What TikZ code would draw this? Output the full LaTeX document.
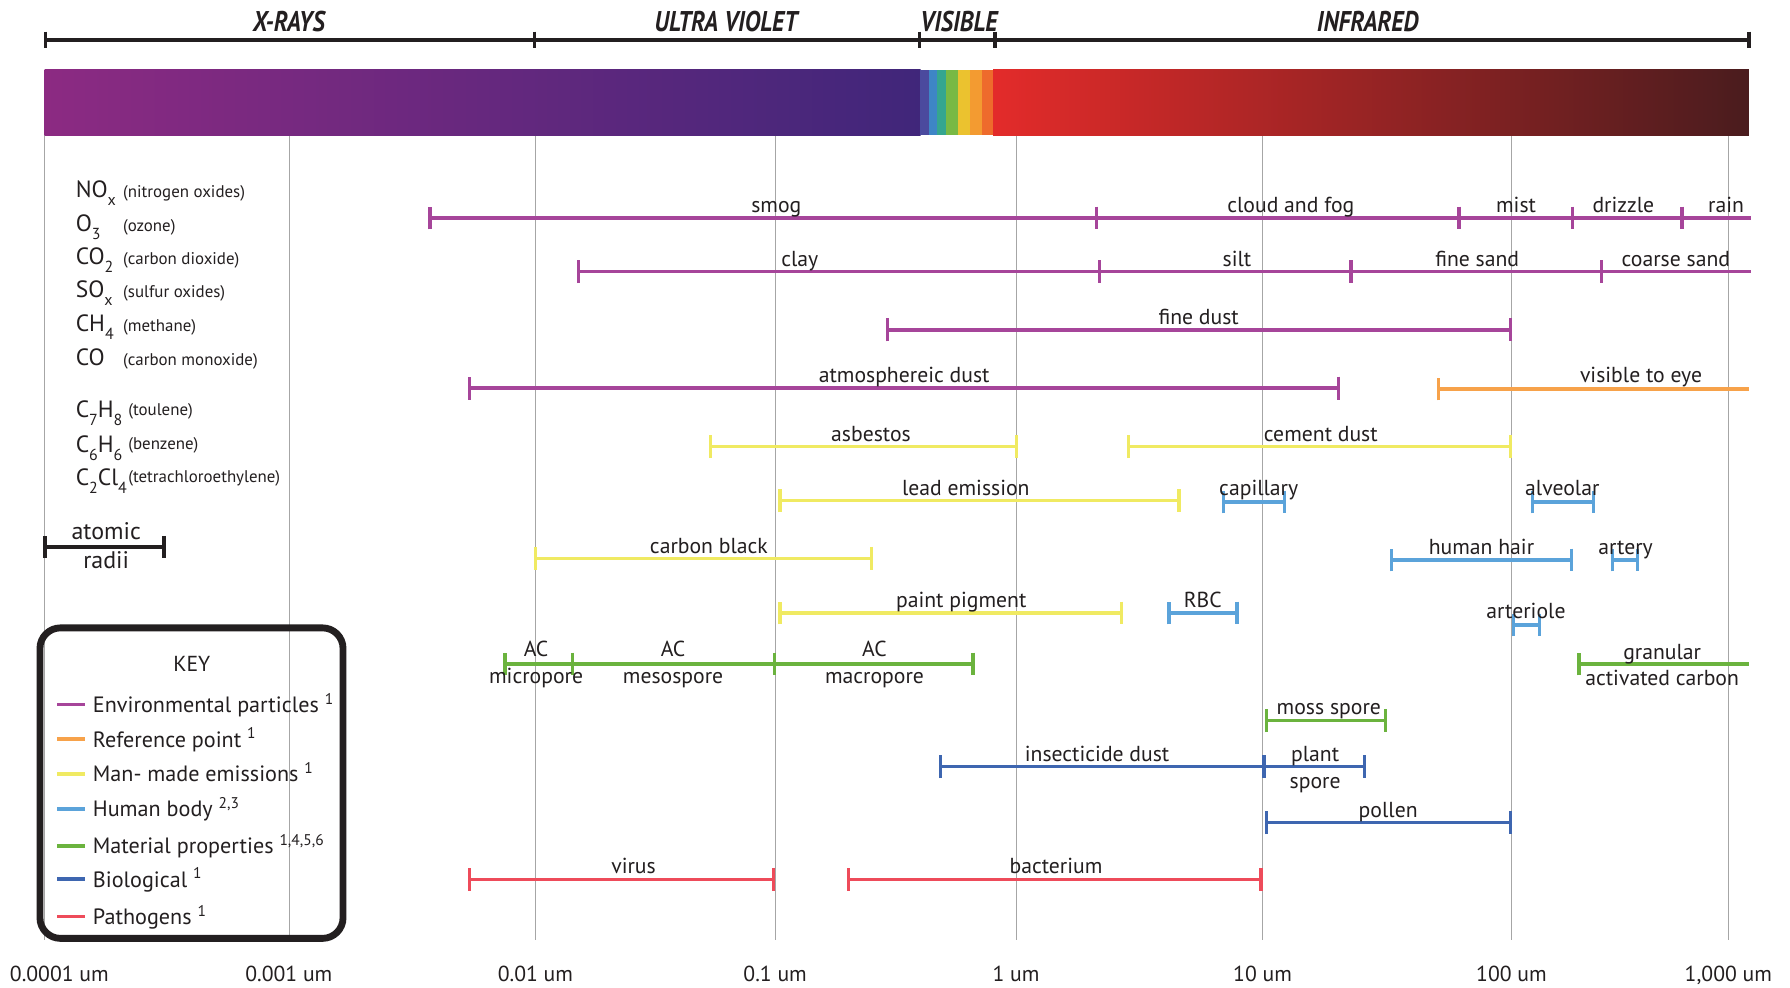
\documentclass[tikz,border=0pt]{standalone}
\usepackage{fontspec}
\setmainfont{PT Sans}
\newfontfamily\condfont[FakeStretch=0.84]{PT Sans}
\usetikzlibrary{arrows.meta}
\definecolor{envc}{HTML}{A6459A}
\definecolor{refc}{HTML}{F7A24A}
\definecolor{manc}{HTML}{F0EA62}
\definecolor{humc}{HTML}{5BA3DA}
\definecolor{matc}{HTML}{6BB33E}
\definecolor{bioc}{HTML}{3E66B0}
\definecolor{patc}{HTML}{EE4B5A}
\definecolor{uvL}{HTML}{8C2A82}
\definecolor{uvR}{HTML}{40267A}
\definecolor{irL}{HTML}{E32B2A}
\definecolor{irM}{HTML}{8E2828}
\definecolor{irR}{HTML}{4A1C1E}
\definecolor{txt}{HTML}{231F20}
\newcommand\rng[5]{%
  \coordinate (#1a) at (#3,#5);
  \coordinate (#1b) at (#4,#5);
  \draw[#2] (#1a) -- (#1b);}
\newcommand\lab[4]{\node[lbl] (#1) at (#2,#3) {#4};}
\newcommand\sbs[1]{\raisebox{-3.5pt}{\fontsize{7}{7}\selectfont #1}}
\begin{document}
\begin{tikzpicture}[x=0.5pt,y=-0.5pt,
  lbl/.style={font=\fontsize{9.5}{11}\selectfont, anchor=base, inner sep=0pt, text=txt},
  toplbl/.style={font=\fontsize{12.5}{14}\condfont\bfseries\itshape, anchor=base, inner sep=0pt, text=txt},
  axlbl/.style={font=\fontsize{9.5}{11}\selectfont, anchor=base, inner sep=0pt, text=txt},
  fml/.style={font=\fontsize{10.3}{12}\selectfont, anchor=base west, inner sep=0pt, text=txt},
  fnm/.style={font=\fontsize{7.4}{8}\selectfont, anchor=base west, inner sep=0pt, text=txt},
  keyt/.style={font=\fontsize{9.7}{12}\selectfont, anchor=base west, inner sep=0pt, text=txt},
  rg/.style={line width=1.5pt, {Bar[width=10pt]}-{Bar[width=10pt]}},
  rgl/.style={line width=1.5pt, {Bar[width=10pt]}-},
  rgr/.style={line width=1.5pt, -{Bar[width=10pt]}},
  rgn/.style={line width=1.5pt},
  axis/.style={line width=1.4pt, txt},
  tick/.style={line width=1.4pt, txt},
  grid/.style={line width=0.45pt, color=black!35},
  keyln/.style={line width=1.5pt},
]
\useasboundingbox (0,0) rectangle (1568,865);
\fill[white] (0,0) rectangle (1568,865);

% grid lines
\foreach \i/\gx in {0/39,1/254,2/469,3/679,4/890,5/1106,6/1324,7/1514}{
  \coordinate (g\i t) at (\gx,118.3);
  \coordinate (g\i b) at (\gx,823);
  \draw[grid] (g\i t) -- (g\i b);
}

% spectrum bar
\shade[left color=uvL, right color=uvR] (39,61.3) rectangle (806.5,118.3);
\fill[fill={rgb,255:red,75;green,74;blue,158}] (806,61.3) rectangle (813.5,118.3);
\fill[fill={rgb,255:red,62;green,134;blue,198}] (813.5,61.3) rectangle (821,118.3);
\fill[fill={rgb,255:red,53;green,166;blue,143}] (821,61.3) rectangle (829,118.3);
\fill[fill={rgb,255:red,121;green,185;blue,68}] (829,61.3) rectangle (839,118.3);
\fill[fill={rgb,255:red,235;green,194;blue,47}] (839,61.3) rectangle (849.5,118.3);
\fill[fill={rgb,255:red,243;green,155;blue,49}] (849.5,61.3) rectangle (860,118.3);
\fill[fill={rgb,255:red,238;green,107;blue,44}] (860,61.3) rectangle (870.5,118.3);
\shade[left color=irL, middle color=irM, right color=irR] (870,61.3) rectangle (1532,118.3);

% top axis
\coordinate (t0) at (40,35);
\coordinate (t1) at (468,35);
\coordinate (t2) at (805.5,35);
\coordinate (t3) at (871.6,35);
\coordinate (t4) at (1532,35);
\draw[axis] (t0) -- (t4);
\foreach \t in {t0,t1,t2,t3,t4}{
  \draw[tick] ([yshift=3.6pt]\t) -- ([yshift=-3.6pt]\t);
}
\node[toplbl] (xray) at (253,28) {X-RAYS};
\node[toplbl] (uv) at (636,28) {ULTRA VIOLET};
\node[toplbl] (vis) at (840,28) {VISIBLE};
\node[toplbl] (ir) at (1198,28) {INFRARED};

% bottom axis labels
\node[axlbl] (a0) at (52,860) {0.0001 um};
\node[axlbl] (a1) at (253,860) {0.001 um};
\node[axlbl] (a2) at (469,860) {0.01 um};
\node[axlbl] (a3) at (679,860) {0.1 um};
\node[axlbl] (a4) at (890,860) {1 um};
\node[axlbl] (a5) at (1106,860) {10 um};
\node[axlbl] (a6) at (1324,860) {100 um};
\node[axlbl] (a7) at (1514,860) {1,000 um};

% left formulas
\node[fml] (f1) at (66,173) {NO\sbs{x}};
\node[fnm] (n1) at (107.5,173) {(nitrogen oxides)};
\node[fml] (f2) at (66,203) {O\sbs{3}};
\node[fnm] (n2) at (107.5,203) {(ozone)};
\node[fml] (f3) at (66,232) {CO\sbs{2}};
\node[fnm] (n3) at (107.5,232) {(carbon dioxide)};
\node[fml] (f4) at (66,261) {SO\sbs{x}};
\node[fnm] (n4) at (107.5,261) {(sulfur oxides)};
\node[fml] (f5) at (66,290.5) {CH\sbs{4}};
\node[fnm] (n5) at (107.5,290.5) {(methane)};
\node[fml] (f6) at (66,320) {CO};
\node[fnm] (n6) at (107.5,320) {(carbon monoxide)};
\node[fml] (f7) at (66,366) {C\sbs{7}H\sbs{8}};
\node[fnm] (n7) at (112,364) {(toulene)};
\node[fml] (f8) at (66,396) {C\sbs{6}H\sbs{6}};
\node[fnm] (n8) at (112,394) {(benzene)};
\node[fml] (f9) at (66,425) {C\sbs{2}Cl\sbs{4}};
\node[fnm] (n9) at (112,423) {(tetrachloroethylene)};

% atomic radii
\rng{ar}{txt, line width=1.5pt, {Bar[width=9.5pt]}-{Bar[width=9.5pt]}}{38}{145}{479}
\node[lbl, font=\fontsize{10.5}{12}\selectfont] (arT) at (93,473) {atomic};
\node[lbl, font=\fontsize{10.5}{12}\selectfont] (arB) at (93,498) {radii};

% key
\node[draw=txt, line width=3pt, rounded corners=9pt, minimum width=132.75pt, minimum height=136pt, inner sep=0pt] (key) at (167.75,686) {};
\node[lbl] (keyT) at (168,588) {KEY};
\foreach \n/\c/\ky/\t in {k1/envc/617/{Environmental particles \textsuperscript{1}},
  k2/refc/647.5/{Reference point \textsuperscript{1}},
  k3/manc/678/{Man- made emissions \textsuperscript{1}},
  k4/humc/708.6/{Human body \textsuperscript{2,3}},
  k5/matc/741/{Material properties \textsuperscript{1,4,5,6}},
  k6/bioc/770/{Biological \textsuperscript{1}},
  k7/patc/803/{Pathogens \textsuperscript{1}}}{
  \coordinate (\n a) at (50,\ky);
  \coordinate (\n b) at (74.5,\ky);
  \draw[keyln, \c] (\n a) -- (\n b);
  \node[keyt] (\n t) at (81,\ky+7) {\t};
}

% row 1
\rng{smog}{rg,envc}{375}{962}{191}
\rng{cloud}{rgr,envc}{962}{1279.5}{191}
\rng{mist}{rgr,envc}{1279.5}{1379}{191}
\rng{drizzle}{rgr,envc}{1379}{1475}{191}
\rng{rain}{rgn,envc}{1475}{1534}{191}
\lab{smogL}{680}{186.5}{smog}
\lab{cloudL}{1130.7}{186.5}{cloud and fog}
\lab{mistL}{1328}{186.5}{mist}
\lab{drizzleL}{1422}{186.5}{drizzle}
\lab{rainL}{1512}{186.5}{rain}

% row 2
\rng{clay}{rg,envc}{505}{964.6}{238}
\rng{silt}{rgr,envc}{964.6}{1185}{238}
\rng{fsand}{rgr,envc}{1185}{1404.4}{238}
\rng{csand}{rgn,envc}{1404.4}{1534}{238}
\lab{clayL}{700.6}{233.5}{clay}
\lab{siltL}{1083.6}{233.5}{silt}
\lab{fsandL}{1294}{233.5}{fine sand}
\lab{csandL}{1468}{233.5}{coarse sand}

% row 3
\rng{fdust}{rg,envc}{776}{1324.5}{289}
\lab{fdustL}{1050}{284.5}{fine dust}

% row 4
\rng{adust}{rg,envc}{410}{1174}{340}
\lab{adustL}{792}{335.5}{atmosphereic dust}
\rng{veye}{rgl,refc}{1258.7}{1532}{340.8}
\lab{veyeL}{1437.5}{335.5}{visible to eye}

% row 5
\rng{asb}{rg,manc}{621}{892}{391.3}
\lab{asbL}{763}{386.5}{asbestos}
\rng{cem}{rg,manc}{987}{1324.5}{391.3}
\lab{cemL}{1157}{386.5}{cement dust}

% row 6
\rng{lead}{rg,manc}{681.6}{1034.2}{438.6}
\lab{leadL}{846}{434}{lead emission}
\rng{cap}{rg,humc}{1070}{1126.8}{439.8}
\lab{capL}{1102.6}{434}{capillary}
\rng{alv}{rg,humc}{1340.8}{1397.4}{439.8}
\lab{alvL}{1368.5}{434}{alveolar}

% row 7
\rng{cblk}{rg,manc}{467.7}{764.8}{489}
\lab{cblkL}{621}{484.5}{carbon black}
\rng{hair}{rg,humc}{1217.6}{1378.3}{490.6}
\lab{hairL}{1297.7}{485.5}{human hair}
\rng{art}{rg,humc}{1411}{1435.7}{490.6}
\lab{artL}{1424}{485.5}{artery}

% row 8
\rng{paint}{rg,manc}{681.6}{984}{537}
\lab{paintL}{842}{532.5}{paint pigment}
\rng{rbc}{rg,humc}{1022.5}{1085}{537}
\lab{rbcL}{1053.6}{532.5}{RBC}
\rng{artl}{rg,humc}{1324.5}{1350}{547.5}
\lab{artlL}{1336.7}{542}{arteriole}

% row 9
\rng{micro}{rg,matc}{441}{502.8}{581.6}
\rng{meso}{rgr,matc}{502.8}{679.7}{581.6}
\rng{macro}{rgr,matc}{679.7}{854}{581.6}
\lab{microA}{469.6}{575.2}{AC}
\lab{mesoA}{589.6}{575.2}{AC}
\lab{macroA}{766}{575.2}{AC}
\lab{microB}{469.6}{598.4}{micropore}
\lab{mesoB}{589.6}{598.4}{mesospore}
\lab{macroB}{766}{598.4}{macropore}
\rng{gac}{rgl,matc}{1381.8}{1532}{581.6}
\lab{gacA}{1456}{577.4}{granular}
\lab{gacB}{1456}{600.9}{activated carbon}

% row 10
\rng{moss}{rg,matc}{1108}{1215}{631.3}
\lab{mossL}{1164}{626.3}{moss spore}

% row 11
\rng{insect}{rg,bioc}{822.4}{1108.6}{671.6}
\lab{insectL}{961}{667}{insecticide dust}
\rng{plant}{rgr,bioc}{1108.6}{1196.6}{671.6}
\lab{plantA}{1152}{667.2}{plant}
\lab{plantB}{1152}{690.6}{spore}

% row 12
\rng{pollen}{rg,bioc}{1108}{1324.5}{720.6}
\lab{pollenL}{1216}{715.7}{pollen}

% row 13
\rng{virus}{rg,patc}{410}{679}{770.3}
\lab{virusL}{555}{765.5}{virus}
\rng{bact}{rg,patc}{742}{1106}{770.3}
\lab{bactL}{925}{765.5}{bacterium}
\end{tikzpicture}
\end{document}
